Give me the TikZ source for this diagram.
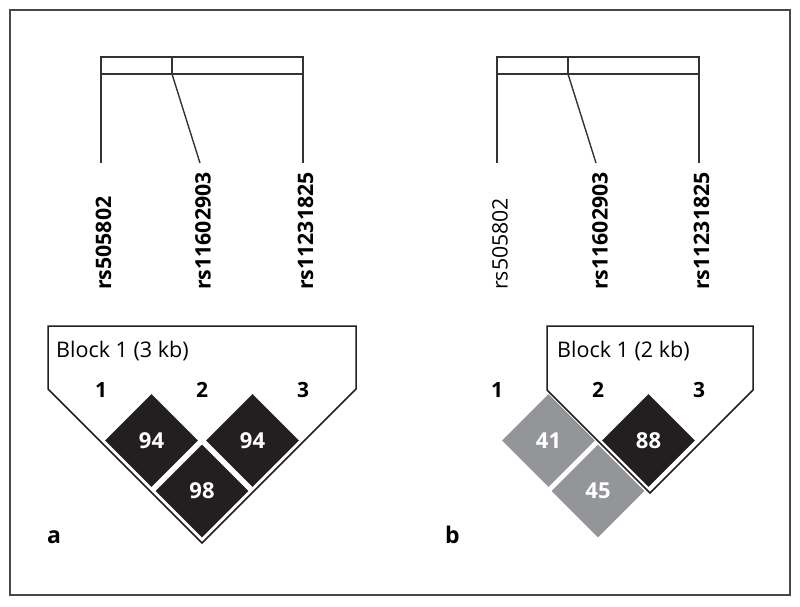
\documentclass[tikz,border=0pt]{standalone}
\usepackage{fontspec}
\setmainfont{Open Sans}
\usetikzlibrary{shapes.geometric}
\definecolor{ldblack}{HTML}{231F20}
\definecolor{ldgray}{HTML}{939598}
\definecolor{linegray}{HTML}{333333}
\begin{document}
\begin{tikzpicture}[x=1pt,y=-1pt,
  frame/.style={draw=black!72, line width=2pt},
  barline/.style={draw=linegray, line width=1.4pt},
  outline/.style={draw=ldblack, line width=1.5pt, line join=miter},
  snpb/.style={rotate=90, anchor=west, inner sep=0pt, font=\fontsize{21.3}{21.3}\selectfont\bfseries},
  snpr/.style={rotate=90, anchor=west, inner sep=0pt, font=\fontsize{21.3}{21.3}\selectfont},
  idx/.style={anchor=base, inner sep=0pt, font=\fontsize{21}{21}\selectfont\bfseries},
  blocktxt/.style={anchor=base west, inner sep=0pt, font=\fontsize{21.5}{21.5}\selectfont},
  panel/.style={anchor=base west, inner sep=0pt, font=\fontsize{23}{23}\selectfont\bfseries},
  ldcell/.style={diamond, aspect=1, inner sep=0pt, minimum width=93pt, minimum height=93pt,
    text=white, font=\fontsize{22}{22}\selectfont\bfseries},
  dark/.style={ldcell, fill=ldblack},
  light/.style={ldcell, fill=ldgray}]
\useasboundingbox (0,0) rectangle (800,606);
\draw[frame] (10,10) rectangle (790,595);

% ---------------- panel a ----------------
\coordinate (aT1) at (101,57);
\coordinate (aB1) at (101,74);
\coordinate (aT2) at (172,57);
\coordinate (aB2) at (172,74);
\coordinate (aT3) at (303,57);
\coordinate (aB3) at (303,74);
\coordinate (aE1) at (101,163);
\coordinate (aE2) at (200,163);
\coordinate (aE3) at (303,163);
\draw[barline] (aT1) rectangle (aB3);
\draw[barline] (aT2) -- (aB2);
\draw[barline] (aB1) -- (aE1);
\draw[barline] (aB2) -- (aE2);
\draw[barline] (aB3) -- (aE3);
\node[snpb] (aL1) at (103.5,290) {rs505802};
\node[snpb] (aL2) at (203,290) {rs11602903};
\node[snpb] (aL3) at (305.5,290) {rs11231825};

\node[dark] (a12) at (151.5,440.5) {94};
\node[dark] (a23) at (252.5,440.5) {94};
\node[dark] (a13) at (202,491) {98};
\draw[outline] (48,326) -- (356,326) -- (356,389) -- (202,543) -- (48,389) -- cycle;
\node[blocktxt] (aBlk) at (56,357) {Block 1 (3 kb)};
\node[idx] (aN1) at (101,397) {1};
\node[idx] (aN2) at (202,397) {2};
\node[idx] (aN3) at (303,397) {3};
\node[panel] (aPan) at (47,543) {a};

% ---------------- panel b ----------------
\coordinate (bT1) at (497,57);
\coordinate (bB1) at (497,74);
\coordinate (bT2) at (568,57);
\coordinate (bB2) at (568,74);
\coordinate (bT3) at (699,57);
\coordinate (bB3) at (699,74);
\coordinate (bE1) at (497,163);
\coordinate (bE2) at (596,163);
\coordinate (bE3) at (699,163);
\draw[barline] (bT1) rectangle (bB3);
\draw[barline] (bT2) -- (bB2);
\draw[barline] (bB1) -- (bE1);
\draw[barline] (bB2) -- (bE2);
\draw[barline] (bB3) -- (bE3);
\node[snpr] (bL1) at (500,290) {rs505802};
\node[snpb] (bL2) at (600,290) {rs11602903};
\node[snpb] (bL3) at (701.5,290) {rs11231825};

\node[light] (b12) at (548.5,440.5) {41};
\node[dark] (b23) at (648.5,440.5) {88};
\node[light] (b13) at (598,491) {45};
\draw[outline] (547,326) -- (753,326) -- (753,390) -- (650,493) -- (547,390) -- cycle;
\node[blocktxt] (bBlk) at (557,357) {Block 1 (2 kb)};
\node[idx] (bN1) at (497,397) {1};
\node[idx] (bN2) at (598,397) {2};
\node[idx] (bN3) at (699,397) {3};
\node[panel] (bPan) at (445,543) {b};
\end{tikzpicture}
\end{document}
